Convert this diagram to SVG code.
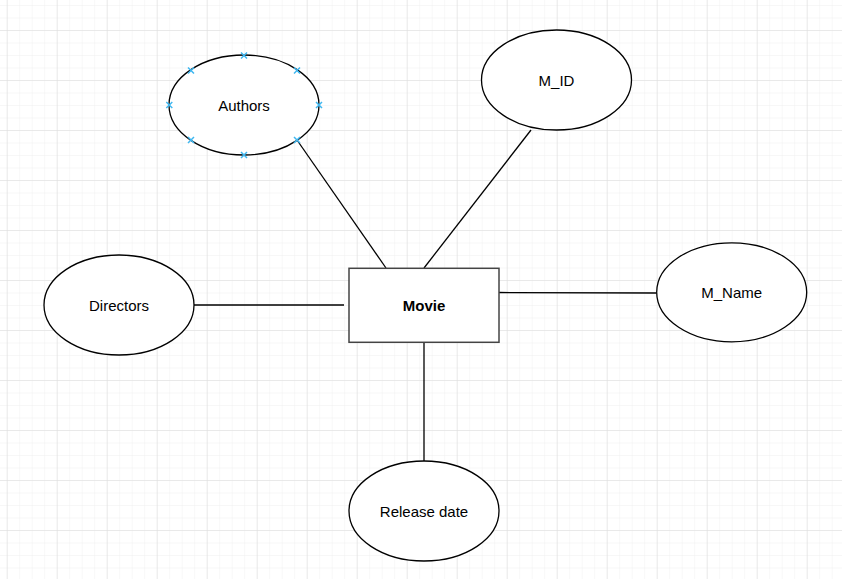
<svg xmlns="http://www.w3.org/2000/svg" width="842" height="579" viewBox="0 0 842 579">
  <defs>
    <pattern id="minor" x="6.7" y="5" width="12.5" height="12.5" patternUnits="userSpaceOnUse">
      <path d="M0 0V12.5M0 0H12.5" fill="none" stroke="#f0f0f0" stroke-width="1"/>
    </pattern>
    <pattern id="major" x="6.7" y="30" width="50" height="50" patternUnits="userSpaceOnUse">
      <path d="M0 0V50M0 0H50" fill="none" stroke="#dcdcdc" stroke-width="1"/>
    </pattern>
    <g id="mk">
      <path d="M-3 -3L3 3M-3 3L3 -3" stroke="#3fb7f0" stroke-width="1.5" fill="none"/>
    </g>
  </defs>
  <style>
    .ent { fill: #ffffff; stroke: #000000; stroke-width: 1.3; }
    .box { fill: #ffffff; stroke: #444444; stroke-width: 1.5; }
    .lbl { font-family: "Liberation Sans", Arial, sans-serif; font-size: 15px; fill: #000000; text-anchor: middle; }
    .bold { font-weight: bold; }
    .edge { stroke: #000000; stroke-width: 1.3; fill: none; }
  </style>
  <rect width="842" height="579" fill="#ffffff"/>
  <rect width="842" height="579" fill="url(#minor)"/>
  <rect width="842" height="579" fill="url(#major)"/>

  <g id="connectors">
    <path class="edge" d="M297 140L386 268"/>
    <path class="edge" d="M531 130L424 268"/>
    <path class="edge" d="M194 305H344"/>
    <path class="edge" d="M499 292.5L656.5 293"/>
    <path class="edge" d="M424 342V461"/>
  </g>

  <g id="movie">
    <rect class="box" x="349" y="268.3" width="150" height="74"/>
    <text class="lbl bold" x="424" y="311">Movie</text>
  </g>

  <g id="authors">
    <ellipse class="ent" cx="244" cy="105" rx="75" ry="50"/>
    <text class="lbl" x="244" y="111">Authors</text>
    <use href="#mk" x="244" y="55.5"/>
    <use href="#mk" x="244" y="155"/>
    <use href="#mk" x="169.3" y="105"/>
    <use href="#mk" x="319" y="105"/>
    <use href="#mk" x="191" y="70.5"/>
    <use href="#mk" x="297" y="70.5"/>
    <use href="#mk" x="191" y="140"/>
    <use href="#mk" x="297" y="140"/>
  </g>

  <g id="m_id">
    <ellipse class="ent" cx="556.5" cy="80" rx="75" ry="50"/>
    <text class="lbl" x="556.5" y="86">M_ID</text>
  </g>

  <g id="directors">
    <ellipse class="ent" cx="119" cy="305" rx="75" ry="50"/>
    <text class="lbl" x="119" y="311">Directors</text>
  </g>

  <g id="m_name">
    <ellipse class="ent" cx="731.7" cy="292.3" rx="75" ry="49.5"/>
    <text class="lbl" x="731.7" y="298">M_Name</text>
  </g>

  <g id="release_date">
    <ellipse class="ent" cx="424" cy="511" rx="75" ry="50"/>
    <text class="lbl" x="424" y="517">Release date</text>
  </g>
</svg>
